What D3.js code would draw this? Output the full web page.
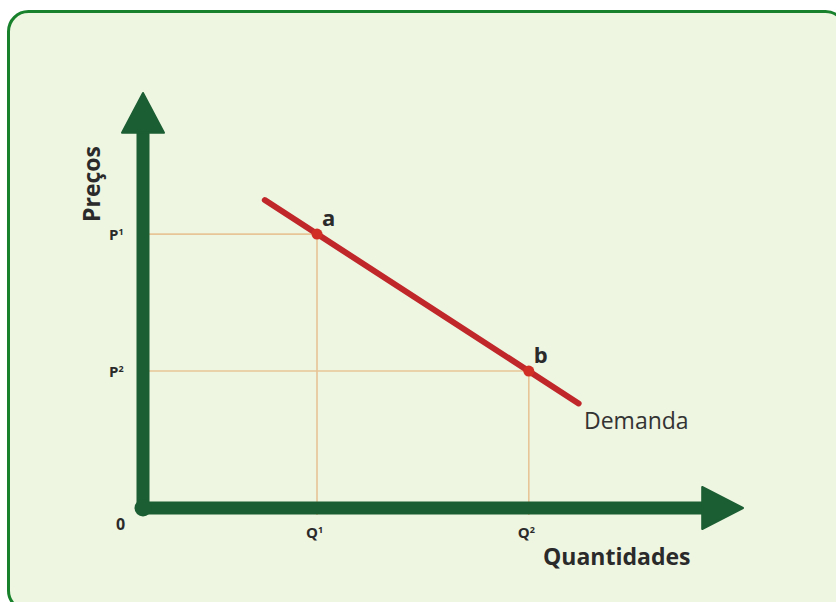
<!DOCTYPE html>
<html>
<head>
<meta charset="utf-8">
<script src="https://cdn.jsdelivr.net/npm/d3@7"></script>
<style>
  html, body { margin: 0; padding: 0; background: #ffffff; }
  svg { display: block; font-family: "Open Sans", "Noto Sans", sans-serif; }
</style>
</head>
<body>
<svg width="836" height="602"></svg>
<script>
var width = 836,
    height = 602;

// data (units on a 0-100 scale for both axes)
var demandLine = [[20.3, 74.2], [72.6, 25.2]];
var points = [
  {name: "a", q: 29, p: 66},
  {name: "b", q: 64.3, p: 33}
];
var priceTicks = ["P1", "P2"];
var quantityTicks = ["Q1", "Q2"];
var axisLabels = {x: "Quantidades", y: "Preços"};
var curveLabel = "Demanda";

var svg = d3.select("svg");

// frame (runs off the right and bottom edges)
svg.append("rect")
    .attr("width", width).attr("height", height)
    .style("fill", "#ffffff");
svg.append("rect")
    .attr("x", 8.5).attr("y", 11.5)
    .attr("width", 837).attr("height", 599)
    .attr("rx", 20).attr("ry", 20)
    .style("fill", "#eef5e1")
    .style("stroke", "#17812c")
    .style("stroke-width", 3);

var x = d3.scaleLinear().domain([0, 100]).range([143, 743]);
var y = d3.scaleLinear().domain([0, 100]).range([508, 93]);

var axisColor = "#1b5e33";
var g = svg.append("g");

// guide lines
points.forEach(function (d) {
  g.append("line")
      .attr("x1", x(0) - 6).attr("x2", x(d.q))
      .attr("y1", y(d.p)).attr("y2", y(d.p))
      .style("stroke", "#e7c596").style("stroke-width", 1.6);
  g.append("line")
      .attr("x1", x(d.q)).attr("x2", x(d.q))
      .attr("y1", y(d.p)).attr("y2", y(0) + 7)
      .style("stroke", "#e7c596").style("stroke-width", 1.6);
});

// axes
g.append("line")
    .attr("x1", x(0)).attr("x2", x(0))
    .attr("y1", y(0)).attr("y2", y(91))
    .style("stroke", axisColor).style("stroke-width", 13);
g.append("line")
    .attr("x1", x(0)).attr("x2", x(94))
    .attr("y1", y(0)).attr("y2", y(0))
    .style("stroke", axisColor).style("stroke-width", 13);
g.append("circle")
    .attr("cx", x(0)).attr("cy", y(0)).attr("r", 8.5)
    .style("fill", axisColor);
g.append("path")
    .attr("d", "M" + x(0) + "," + y(100) +
               "L" + (x(0) + 21) + "," + y(90.4) +
               "L" + (x(0) - 21) + "," + y(90.4) + "Z")
    .style("fill", axisColor).style("stroke", axisColor)
    .style("stroke-width", 2).style("stroke-linejoin", "round");
g.append("path")
    .attr("d", "M" + x(100) + "," + y(0) +
               "L" + x(93.2) + "," + (y(0) - 21) +
               "L" + x(93.2) + "," + (y(0) + 21) + "Z")
    .style("fill", axisColor).style("stroke", axisColor)
    .style("stroke-width", 2).style("stroke-linejoin", "round");

// demand curve
g.append("line")
    .attr("x1", x(demandLine[0][0])).attr("y1", y(demandLine[0][1]))
    .attr("x2", x(demandLine[1][0])).attr("y2", y(demandLine[1][1]))
    .style("stroke", "#c0272b").style("stroke-width", 6)
    .style("stroke-linecap", "round");

g.selectAll("circle.pt")
    .data(points)
    .enter().append("circle")
    .attr("class", "pt")
    .attr("cx", function (d) { return x(d.q); })
    .attr("cy", function (d) { return y(d.p); })
    .attr("r", 5.5)
    .style("fill", "#d12f25");

var textColor = "#2a2a2a";

g.selectAll("text.pt")
    .data(points)
    .enter().append("text")
    .attr("class", "pt")
    .attr("x", function (d) { return x(d.q) + 5; })
    .attr("y", function (d) { return y(d.p) - 8; })
    .style("font-size", "22px").style("font-weight", "bold")
    .style("fill", textColor)
    .text(function (d) { return d.name; });

// tick labels
function tickLabel(sel, lbl) {
  sel.append("tspan").text(lbl[0]);
  sel.append("tspan").attr("dy", -5).style("font-size", "9px").text(lbl[1]);
}
points.forEach(function (d, i) {
  g.append("text")
      .attr("x", x(0) - 34).attr("y", y(d.p) + 6)
      .style("font-size", "15px").style("font-weight", "bold")
      .style("fill", textColor)
      .call(tickLabel, priceTicks[i]);
  g.append("text")
      .attr("x", x(d.q) - 11).attr("y", y(0) + 30)
      .style("font-size", "15px").style("font-weight", "bold")
      .style("fill", textColor)
      .call(tickLabel, quantityTicks[i]);
});
g.append("text")
    .attr("x", x(0) - 27).attr("y", y(0) + 22)
    .style("font-size", "16px").style("font-weight", "bold")
    .style("fill", textColor)
    .text("0");

// axis titles
g.append("text")
    .attr("x", 543).attr("y", 565)
    .style("font-size", "23px").style("font-weight", "bold")
    .style("fill", textColor)
    .text(axisLabels.x);
g.append("text")
    .attr("transform", "translate(100,222) rotate(-90)")
    .style("font-size", "23px").style("font-weight", "bold")
    .style("fill", textColor)
    .text(axisLabels.y);

g.append("text")
    .attr("x", 584).attr("y", 429)
    .style("font-size", "23px")
    .style("fill", "#333333")
    .text(curveLabel);
</script>
</body>
</html>
